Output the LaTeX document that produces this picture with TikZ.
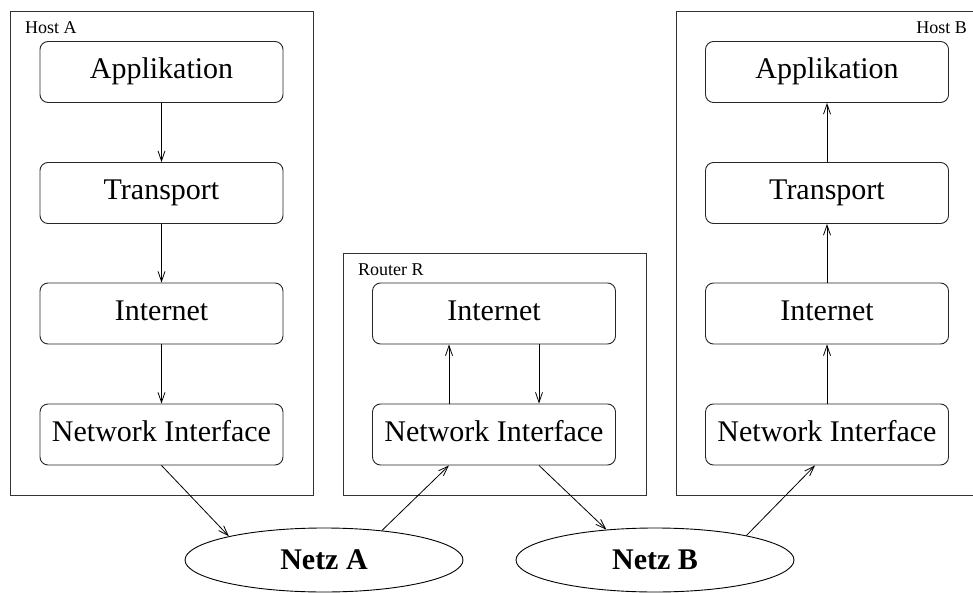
\documentclass[tikz,border=0pt]{standalone}
\usepackage{fontspec}
\setmainfont{Liberation Serif}
\usetikzlibrary{arrows.meta,shapes.geometric}
\begin{document}
\begin{tikzpicture}[x=1pt,y=-1pt,
  layer/.style={draw=black!85,line width=0.9pt,rounded corners=8pt,minimum width=243pt,minimum height=61pt,inner sep=0pt,font=\fontsize{30}{30}\selectfont,text height=20pt,text depth=6pt},
  outer/.style={draw=black!80,line width=0.9pt,minimum width=303pt,inner sep=0pt},
  lbl/.style={font=\fontsize{18}{18}\selectfont,inner sep=0pt},
  net/.style={draw=black,line width=0.9pt,ellipse,inner sep=0pt,minimum width=278pt,minimum height=64pt,font=\bfseries\fontsize{30}{30}\selectfont},
  arr/.style={line width=0.8pt,-{Straight Barb[length=10pt,width=7pt]}}]
\useasboundingbox (0,0) rectangle (973,593);
% containers
\node[outer,minimum height=484pt] (hosta) at (161.5,253) {};
\node[outer,minimum height=242pt] (router) at (494.5,374) {};
\node[outer,minimum height=484pt] (hostb) at (827.5,253) {};
\node[lbl,anchor=base west] (la) at (25,34) {Host A};
\node[lbl,anchor=base west] (lr) at (358,276) {Router R};
\node[lbl,anchor=base east] (lb) at (967,34) {Host B};
% host A
\node[layer] (aapp) at (161.5,72) {Applikation};
\node[layer] (atr) at (161.5,193) {Transport};
\node[layer] (ain) at (161.5,313.5) {Internet};
\node[layer] (ani) at (161.5,434.5) {Network Interface};
% router
\node[layer] (rin) at (494,313.5) {Internet};
\node[layer] (rni) at (494,434.5) {Network Interface};
% host B
\node[layer] (bapp) at (827,72) {Applikation};
\node[layer] (btr) at (827,193) {Transport};
\node[layer] (bin) at (827,313.5) {Internet};
\node[layer] (bni) at (827,434.5) {Network Interface};
% networks
\node[net] (na) at (324,560) {Netz A};
\node[net] (nb) at (655,560) {Netz B};
% arrows host A
\draw[arr] (aapp.south) -- (atr.north);
\draw[arr] (atr.south) -- (ain.north);
\draw[arr] (ain.south) -- (ani.north);
% arrows host B
\draw[arr] (bni.north) -- (bin.south);
\draw[arr] (bin.north) -- (btr.south);
\draw[arr] (btr.north) -- (bapp.south);
% router
\draw[arr] ([xshift=-45pt]rni.north) -- ([xshift=-45pt]rin.south);
\draw[arr] ([xshift=45pt]rin.south) -- ([xshift=45pt]rni.north);
% network links
\draw[arr] (ani.south) -- (na.166);
\draw[arr] (na.27) -- ([xshift=-45pt]rni.south);
\draw[arr] ([xshift=45pt]rni.south) -- (nb.148);
\draw[arr] (nb.15) -- ([xshift=-12pt]bni.south);
\end{tikzpicture}
\end{document}
